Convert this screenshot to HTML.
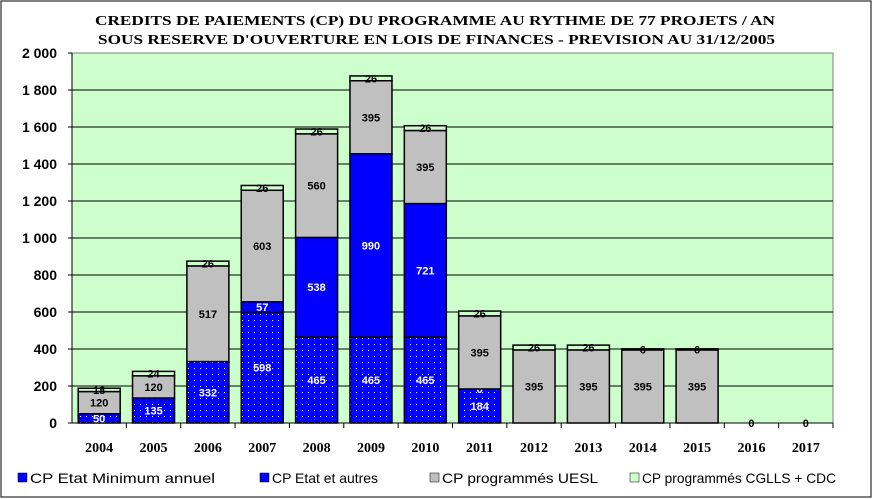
<!DOCTYPE html>
<html><head><meta charset="utf-8"><style>
body{margin:0;background:#fff;}
svg{display:block;font-family:"Liberation Sans",Arial,sans-serif;}
</style></head><body>
<svg id="c" width="873" height="499" viewBox="0 0 873 499">
<defs>
<pattern id="dots" width="6" height="6" patternUnits="userSpaceOnUse">
<rect width="6" height="6" fill="#0000ff"/><rect x="2" y="2" width="1" height="1" fill="#fff"/>
</pattern>
</defs>
<rect x="1" y="1" width="870" height="496" fill="#fff" stroke="#000"/>
<text x="95" y="25" textLength="680" lengthAdjust="spacingAndGlyphs" font-family="Liberation Serif,serif" font-weight="bold" font-size="14">CREDITS DE PAIEMENTS (CP) DU PROGRAMME AU RYTHME DE 77 PROJETS / AN</text>
<text x="98" y="44" textLength="677" lengthAdjust="spacingAndGlyphs" font-family="Liberation Serif,serif" font-weight="bold" font-size="14">SOUS RESERVE D'OUVERTURE EN LOIS DE FINANCES - PREVISION AU 31/12/2005</text>
<rect x="72" y="53" width="761" height="370" fill="#ccffcc" stroke="#808080"/>
<g id="grid"></g><g id="bars"></g><g id="axes"></g>
<g font-size="14">
<rect x="18" y="473" width="9" height="9" fill="#0000ff" stroke="#000" stroke-width="0.5"/>
<text x="30" y="483" textLength="185" lengthAdjust="spacingAndGlyphs">CP Etat Minimum annuel</text>
<rect x="260" y="473" width="9" height="9" fill="#0000ff" stroke="#000" stroke-width="0.5"/>
<text x="272" y="483" textLength="106" lengthAdjust="spacingAndGlyphs">CP Etat et autres</text>
<rect x="430" y="473" width="9" height="9" fill="#c0c0c0" stroke="#000" stroke-width="0.5"/>
<text x="442" y="483" textLength="156" lengthAdjust="spacingAndGlyphs">CP programmés UESL</text>
<rect x="630" y="473" width="9" height="9" fill="#ccffcc" stroke="#000" stroke-width="0.5"/>
<text x="642" y="483" textLength="194" lengthAdjust="spacingAndGlyphs">CP programmés CGLLS + CDC</text>
</g>
</svg>
<script>
const categories=["2004","2005","2006","2007","2008","2009","2010","2011","2012","2013","2014","2015","2016","2017"];
const minAnnuel=[50,135,332,598,465,465,465,184,0,0,0,0,0,0];
const etatAutres=[0,0,0,57,538,990,721,0,0,0,0,0,0,0];
const uesl=[120,120,517,603,560,395,395,395,395,395,395,395,0,0];
const cglls=[18,24,26,26,26,26,26,26,26,26,6,6,0,0];
const yTicks=[0,200,400,600,800,1000,1200,1400,1600,1800,2000];
const yTickLabels=["0","200","400","600","800","1 000","1 200","1 400","1 600","1 800","2 000"];
const NS="http://www.w3.org/2000/svg";
const X0=72,X1=833,Y0=423,Y1=53,YMAX=2000;
const band=(X1-X0)/categories.length,bw=42;
const y=v=>Y0-(v/YMAX)*(Y0-Y1);
const xc=i=>X0+band*(i+0.5);
function mk(tag,attrs,parent){const e=document.createElementNS(NS,tag);for(const k in attrs)e.setAttribute(k,attrs[k]);parent.appendChild(e);return e;}
const grid=document.getElementById('grid'),bars=document.getElementById('bars'),axes=document.getElementById('axes');
yTicks.forEach((t,i)=>{
 if(t>0&&t<YMAX){const l=mk('line',{x1:X0,x2:X1,y1:y(t),y2:y(t),stroke:'#000','stroke-width':1},grid);
 
 }
 const tk=mk('line',{x1:X0-4,x2:X0,y1:y(t),y2:y(t),stroke:'#000'},axes);
 
 
 const tx=mk('text',{x:X0-15,y:y(t)+5,'text-anchor':'end','font-size':14,'font-weight':'bold'},axes);
 tx.textContent=yTickLabels[i];
 
 
});
mk('line',{x1:X0,x2:X1,y1:Y0,y2:Y0,stroke:'#000'},axes);
mk('line',{x1:X0,x2:X0,y1:Y1,y2:Y0,stroke:'#000'},axes);
categories.forEach((c,i)=>{
 const tk=mk('line',{x1:X0+band*(i+1),x2:X0+band*(i+1),y1:Y0,y2:Y0+5,stroke:'#000'},axes);
 
 
 const tx=mk('text',{x:xc(i),y:Y0+29,'text-anchor':'middle','font-size':14,'font-weight':'bold','font-family':'Liberation Serif,serif'},axes);
 tx.textContent=c;
 
 
 const series=[[minAnnuel,'url(#dots)','#fff','bar-min-annuel'],[etatAutres,'#0000ff','#fff','bar-etat-autres'],[uesl,'#c0c0c0','#000','bar-uesl'],[cglls,'#ccffcc','#000','bar-cglls']];
 let base=0;
 series.forEach(([arr,fill,tc,name])=>{
  const v=arr[i];const top=base+v;
  if(v>0){const r=mk('rect',{x:xc(i)-bw/2,y:y(top),width:bw,height:y(base)-y(top),fill:fill,stroke:'#000','stroke-width':1.5},bars);
   
   }
  const show=v>0||(name==='bar-etat-autres'&&i===7)||(name==='bar-cglls');
  if(show){const t=mk('text',{x:xc(i),y:(y(base)+y(top))/2+4,'text-anchor':'middle','font-size':11,'font-weight':'bold',fill:(v<30&&name!=='bar-etat-autres')?'#000':tc},bars);
   t.textContent=v;
   
   }
  base=top;
 });
});
</script>
</body></html>
